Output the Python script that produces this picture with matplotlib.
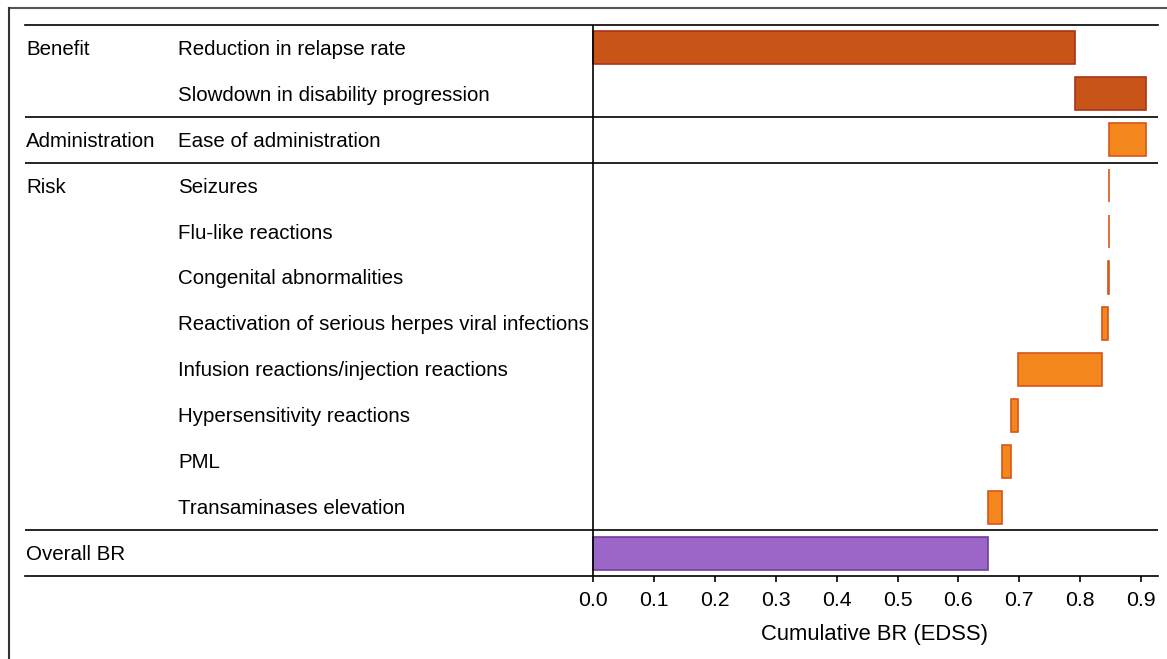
import matplotlib.pyplot as plt
from matplotlib.lines import Line2D

plt.rcParams['font.family'] = ['Liberation Sans', 'DejaVu Sans']

groups = ["Benefit", "", "Administration", "Risk", "", "", "", "", "", "", "", "Overall BR"]
criteria = ["Reduction in relapse rate", "Slowdown in disability progression",
            "Ease of administration", "Seizures", "Flu-like reactions",
            "Congenital abnormalities", "Reactivation of serious herpes viral infections",
            "Infusion reactions/injection reactions", "Hypersensitivity reactions",
            "PML", "Transaminases elevation", ""]
# contribution of each criterion to the cumulative BR
deltas = [0.792, 0.116, -0.060, -0.0006, -0.0006, -0.0006, -0.011,
          -0.138, -0.011, -0.015, -0.022]
kind = ["benefit", "benefit", "other", "other", "other", "other", "other",
        "other", "other", "other", "other"]
separators = [2, 3, 11]  # rows that start a new section

fill = {"benefit": "#C95418", "other": "#F4861E", "overall": "#9B66C7"}
edge = {"benefit": "#A8341A", "other": "#D5561A", "overall": "#6E3F9A"}

fig = plt.figure(figsize=(11.67, 6.59), dpi=100)
W, H = 1167, 659
ax = fig.add_axes([25 / W, 1 - 576 / H, (1158 - 25) / W, (576 - 25) / H])

scale = 609.0
xmin = -(593 - 25) / scale
xmax = (1158 - 593) / scale
n = len(groups)
ax.set_xlim(xmin, xmax)
ax.set_ylim(n - 0.5, -0.5)

cum = 0.0
for i, d in enumerate(deltas):
    start = cum
    cum = cum + d
    left = min(start, cum)
    w = abs(d)
    ax.barh(i, w, left=left, height=0.72, color=fill[kind[i]],
            edgecolor=edge[kind[i]], linewidth=1.2)
overall = cum
ax.barh(n - 1, overall, left=0, height=0.72, color=fill["overall"],
        edgecolor=edge["overall"], linewidth=1.2)

ax.axvline(0, color="black", linewidth=1.2)
for s in separators:
    ax.axhline(s - 0.5, color="black", linewidth=1.2)

x_group = xmin + 1 / scale
x_crit = (178 - 593) / scale
for i in range(n):
    ax.text(x_group, i + 0.03, groups[i], va="center", ha="left", fontsize=14.8)
    ax.text(x_crit, i + 0.03, criteria[i], va="center", ha="left", fontsize=14.8)

for side in ["left", "right"]:
    ax.spines[side].set_visible(False)
ax.spines["top"].set_linewidth(1.2)
ax.spines["bottom"].set_linewidth(1.2)
ax.set_yticks([])
ax.set_xticks([0.0, 0.1, 0.2, 0.3, 0.4, 0.5, 0.6, 0.7, 0.8, 0.9])
ax.set_xticklabels(["0.0", "0.1", "0.2", "0.3", "0.4", "0.5", "0.6", "0.7", "0.8", "0.9"])
ax.tick_params(axis="x", labelsize=15.3, length=4.5, width=1.2, pad=6)
ax.set_xlabel("Cumulative BR (EDSS)", fontsize=15.8)
ax.xaxis.set_label_coords((593 + 0.463 * scale - 25) / (1158 - 25), -0.088)

# outer frame (top and left edges)
fig.add_artist(Line2D([9 / W, 1], [1 - 8 / H, 1 - 8 / H], color="#555555", linewidth=1.5))
fig.add_artist(Line2D([9 / W, 9 / W], [0, 1 - 8 / H], color="#333333", linewidth=1.5))

fig.savefig("out.png", dpi=100)
